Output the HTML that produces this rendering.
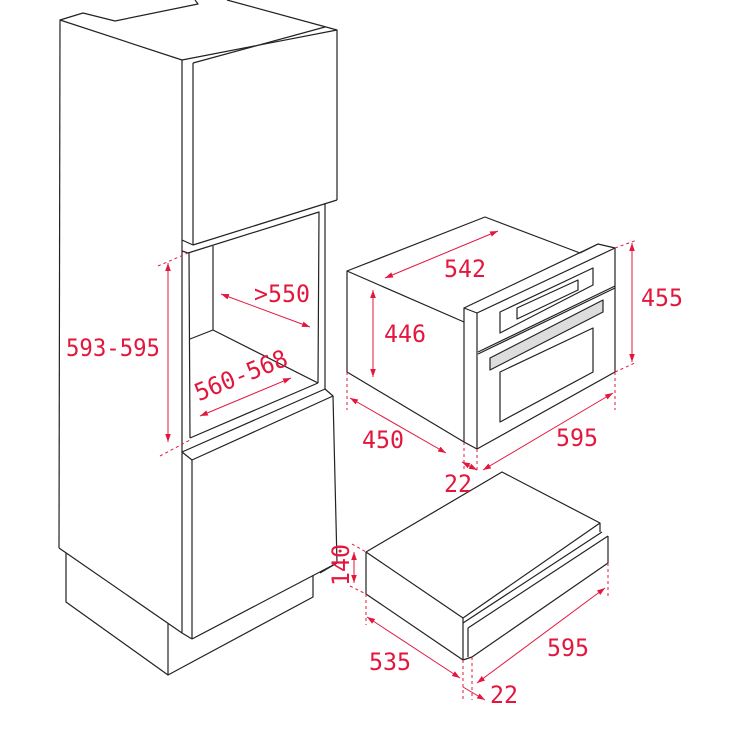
<!DOCTYPE html>
<html><head><meta charset="utf-8"><style>
html,body{margin:0;padding:0;background:#fff;width:731px;height:731px;overflow:hidden}
svg{display:block}
text{font-family:"DejaVu Sans Mono","Liberation Mono",monospace;font-size:24px;fill:#e3173e}
</style></head><body>
<svg width="731" height="731" viewBox="0 0 731 731" xmlns="http://www.w3.org/2000/svg">
<defs>
<marker id="a" viewBox="0 0 10 10" refX="10" refY="5" markerWidth="8" markerHeight="8" orient="auto-start-reverse" markerUnits="userSpaceOnUse"><path d="M0,1.5 L10,5 L0,8.5 z" fill="#e3173e"/></marker>
</defs>
<g fill="none" stroke="#222" stroke-width="1.2" stroke-linejoin="round">
<polyline points="195,0 198,4 115,21 83,13 60,20 182,60 337,30 227,0"/>
<line x1="60" y1="20" x2="59" y2="548"/>
<polyline points="59,548 182,633"/>
<line x1="182" y1="60" x2="182" y2="633"/>
<line x1="193" y1="63" x2="193" y2="245"/>
<line x1="193" y1="63" x2="325" y2="27"/>
<line x1="337" y1="30" x2="337" y2="200"/>
<line x1="193" y1="245" x2="337" y2="200"/>
<line x1="182" y1="240" x2="193" y2="245"/>
<line x1="325" y1="203" x2="325" y2="389"/>
<polyline points="188,253 319,212 318,383"/>
<line x1="182" y1="251" x2="188" y2="253"/>
<line x1="189" y1="253" x2="190" y2="438"/>
<line x1="213" y1="246" x2="213" y2="330"/>
<polyline points="190,339 213,330 318,383"/>
<line x1="190" y1="438" x2="318" y2="383"/>
<polyline points="182,452 325,389 333,396 192,460 182,452"/>
<line x1="192" y1="460" x2="192" y2="639"/>
<line x1="333" y1="396" x2="337" y2="563"/>
<line x1="192" y1="639" x2="337" y2="563"/>
<line x1="182" y1="633" x2="192" y2="639"/>
<polyline points="66,553 66,602 168,675 313,597 313,575"/>
<line x1="168" y1="623" x2="168" y2="675"/>
<polyline points="347,271 485,217 580,253"/>
<polyline points="580,253 598,244 615,248 615,372 477,449 464,442 347,372 347,271 464,322"/>
<polyline points="464,442 464,308 477,313 615,248"/>
<line x1="464" y1="308" x2="598" y2="244"/>
<line x1="477" y1="313" x2="477" y2="449"/>
<polygon points="500,312 593,268 593,285 500,333"/>
<polygon points="517,308 578,280 578,290 517,319"/>
<line x1="478" y1="352" x2="615" y2="286"/>
<line x1="478" y1="354" x2="615" y2="288"/>
<polygon points="490,358 603,300 603,312 490,370" fill="#ddd"/>
<polygon points="500,372 593,328 593,372 500,422"/>
<polygon points="366,552 502,472 600,523 463,618"/>
<line x1="600" y1="523" x2="600" y2="532"/>
<line x1="463" y1="623" x2="602" y2="532"/>
<line x1="468" y1="628" x2="608" y2="536"/>
<line x1="608" y1="536" x2="608" y2="563"/>
<line x1="472" y1="657" x2="608" y2="563"/>
<line x1="366" y1="552" x2="366" y2="594"/>
<line x1="366" y1="594" x2="463" y2="660"/>
<line x1="463" y1="618" x2="463" y2="660"/>
<line x1="468" y1="628" x2="468" y2="657"/>
<line x1="463" y1="660" x2="472" y2="657"/>
<line x1="337" y1="563" x2="320" y2="573"/>
</g>
<g stroke="#e3173e" stroke-width="1" fill="none">
<g stroke-dasharray="3,3">
<line x1="158" y1="266" x2="188" y2="253"/>
<line x1="160" y1="456" x2="190" y2="440"/>
<line x1="615" y1="248" x2="637" y2="240"/>
<line x1="615" y1="372" x2="637" y2="362"/>
<line x1="347" y1="372" x2="347" y2="410"/>
<line x1="464" y1="442" x2="464" y2="470"/>
<line x1="477" y1="449" x2="477" y2="470"/>
<line x1="615" y1="372" x2="615" y2="410"/>
<line x1="352" y1="544" x2="366" y2="552"/>
<line x1="350" y1="586" x2="366" y2="594"/>
<line x1="366" y1="594" x2="366" y2="625"/>
<line x1="463" y1="660" x2="463" y2="700"/>
<line x1="472" y1="657" x2="472" y2="700"/>
<line x1="608" y1="563" x2="608" y2="598"/>
</g>
<g marker-start="url(#a)" marker-end="url(#a)">
<line x1="168" y1="263" x2="168" y2="442"/>
<line x1="221" y1="294" x2="310" y2="327"/>
<line x1="200" y1="416" x2="291" y2="378"/>
<line x1="385" y1="278" x2="498" y2="231"/>
<line x1="373" y1="290" x2="373" y2="377"/>
<line x1="632" y1="243" x2="632" y2="362"/>
<line x1="350" y1="398" x2="446" y2="453"/>
<line x1="483" y1="470" x2="613" y2="393"/>
<line x1="462" y1="462" x2="477" y2="470"/>
<line x1="354" y1="552" x2="354" y2="583"/>
<line x1="367" y1="617" x2="460" y2="678"/>
<line x1="477" y1="683" x2="605" y2="588"/>
</g>
<line x1="463" y1="687" x2="485" y2="700" marker-end="url(#a)"/>
</g>
<g>
<text x="66" y="356" textLength="94" lengthAdjust="spacingAndGlyphs">593-595</text>
<text x="254" y="302" textLength="56" lengthAdjust="spacingAndGlyphs">&gt;550</text>
<text transform="translate(244,383) rotate(-22)" text-anchor="middle" textLength="98" lengthAdjust="spacingAndGlyphs">560-568</text>
<text x="465" y="277" text-anchor="middle" textLength="42" lengthAdjust="spacingAndGlyphs">542</text>
<text x="405" y="342" text-anchor="middle" textLength="42" lengthAdjust="spacingAndGlyphs">446</text>
<text x="662" y="306" text-anchor="middle" textLength="42" lengthAdjust="spacingAndGlyphs">455</text>
<text x="383" y="448" text-anchor="middle" textLength="42" lengthAdjust="spacingAndGlyphs">450</text>
<text x="577" y="446" text-anchor="middle" textLength="42" lengthAdjust="spacingAndGlyphs">595</text>
<text x="458" y="492" text-anchor="middle" textLength="28" lengthAdjust="spacingAndGlyphs">22</text>
<text transform="translate(349,565) rotate(-90)" text-anchor="middle" textLength="42" lengthAdjust="spacingAndGlyphs">140</text>
<text x="390" y="670" text-anchor="middle" textLength="42" lengthAdjust="spacingAndGlyphs">535</text>
<text x="568" y="656" text-anchor="middle" textLength="42" lengthAdjust="spacingAndGlyphs">595</text>
<text x="504" y="703" text-anchor="middle" textLength="28" lengthAdjust="spacingAndGlyphs">22</text>
</g>
</svg>
</body></html>
